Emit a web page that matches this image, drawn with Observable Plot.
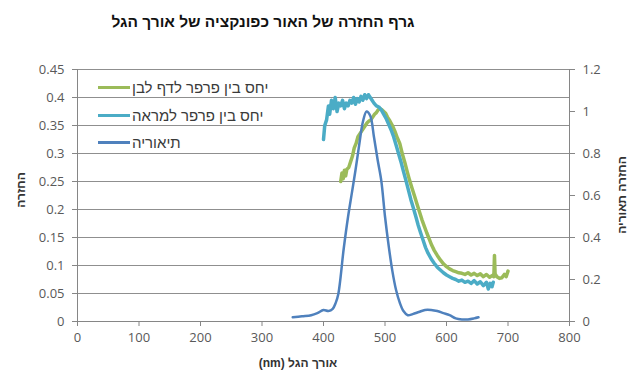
<!DOCTYPE html>
<html><head><meta charset="utf-8">
<script src="https://cdn.jsdelivr.net/npm/d3@7"></script>
<script src="https://cdn.jsdelivr.net/npm/@observablehq/plot@0.6"></script>
<style>
body{margin:0;background:#fff;}
#wrap{position:relative;width:642px;height:379px;font-family:"Liberation Sans","DejaVu Sans",sans-serif;}
#title{position:absolute;left:0;top:13px;width:526px;text-align:center;font-weight:bold;font-size:15.5px;color:#111;direction:rtl;}
.ytitle{position:absolute;font-weight:bold;font-size:12px;color:#333;white-space:nowrap;direction:rtl;transform-origin:center center;}
#xtitle{position:absolute;left:0;width:596px;top:356px;text-align:center;font-weight:bold;font-size:12px;color:#333;direction:rtl;}
#legend{position:absolute;left:98px;top:74px;font-size:15px;color:#3a3a3a;}
.row{height:27.5px;display:flex;align-items:center;}
.sw{width:32px;height:3px;margin-right:2px;}
.lt{direction:rtl;}
</style></head>
<body>
<div id="wrap">
<div id="title">גרף החזרה של האור כפונקציה של אורך הגל</div>
<div id="chart"></div>
<div id="legend"></div>
<div class="ytitle" id="yl">החזרה</div>
<div class="ytitle" id="yr">החזרה תאוריה</div>
<div id="xtitle">אורך הגל (nm)</div>
</div>
<script>
// Tick labels
const xTicks = [0,100,200,300,400,500,600,700,800];
const leftTicks = [0,0.05,0.1,0.15,0.2,0.25,0.3,0.35,0.4,0.45];
const rightTicks = [0,0.2,0.4,0.6,0.8,1,1.2];

// Series names
const seriesNames = ["יחס בין פרפר לדף לבן","יחס בין פרפר למראה","תיאוריה"];
const seriesColors = ["#9BBB59","#4BACC6","#4F81BD"];

// Paper ratio (left axis)
const wlPaper = [428,430,432,434,436,438,441,444,447,450,453,456,459,462,465,468,471,474,477,480,483,486,489,492,495,498,501,504,508,512,516,520,524,528,532,536,540,544,548,552,556,560,564,568,572,576,580,585,590,595,600,605,610,615,620,625,630,635,640,645,650,655,660,665,670,674,677,678,679,682,686,690,694,697,700];
const rPaper = [0.25,0.265,0.255,0.27,0.26,0.272,0.275,0.285,0.295,0.31,0.318,0.33,0.335,0.34,0.345,0.35,0.355,0.358,0.36,0.365,0.37,0.373,0.378,0.38,0.378,0.375,0.372,0.365,0.358,0.35,0.34,0.328,0.318,0.3,0.285,0.268,0.252,0.238,0.224,0.21,0.196,0.182,0.17,0.158,0.147,0.136,0.127,0.118,0.11,0.103,0.098,0.094,0.091,0.089,0.087,0.086,0.084,0.087,0.083,0.086,0.082,0.085,0.08,0.084,0.079,0.082,0.08,0.118,0.085,0.08,0.077,0.078,0.084,0.08,0.09];

// Mirror ratio (left axis)
const wlMirror = [400,402,405,408,410,413,416,419,422,425,428,431,434,437,440,443,446,449,452,455,458,461,464,467,470,473,476,479,482,486,490,494,498,502,506,510,514,518,522,526,530,534,538,542,546,550,554,558,562,566,570,575,580,585,590,595,600,605,610,615,620,625,630,635,640,645,650,655,660,665,668,671,674,676];
const rMirror = [0.325,0.35,0.36,0.385,0.37,0.395,0.38,0.40,0.375,0.39,0.385,0.395,0.38,0.39,0.385,0.395,0.39,0.40,0.388,0.398,0.392,0.402,0.395,0.405,0.398,0.405,0.40,0.395,0.39,0.385,0.383,0.378,0.37,0.362,0.352,0.342,0.33,0.315,0.30,0.285,0.268,0.252,0.235,0.218,0.203,0.188,0.172,0.158,0.145,0.132,0.122,0.112,0.104,0.097,0.092,0.087,0.083,0.08,0.077,0.075,0.072,0.074,0.07,0.072,0.068,0.073,0.067,0.071,0.064,0.07,0.058,0.068,0.062,0.07];

// Theory (right axis)
const wlTheory = [350,365,380,390,400,408,415,420,424,433,440,446,452,458,464,470,476,482,488,494,500,506,512,518,524,530,537,545,555,565,575,585,595,605,615,625,635,645,652];
const rTheory = [0.02,0.025,0.03,0.04,0.055,0.05,0.06,0.09,0.13,0.35,0.5,0.61,0.72,0.84,0.95,1.0,0.98,0.88,0.77,0.67,0.5,0.36,0.24,0.15,0.09,0.05,0.03,0.035,0.045,0.055,0.055,0.05,0.04,0.03,0.015,0.01,0.01,0.015,0.02];

const K = 0.45/1.2; // right axis -> left axis
const fmt = d => String(+d.toFixed(2));
const axisCol = "#868686", labCol = "#595959", gridCol = "#8f8f8f";

const chart = Plot.plot({
  width:642, height:379,
  marginTop:69, marginBottom:58, marginLeft:77, marginRight:73,
  x:{domain:[0,800]},
  y:{domain:[0,0.45]},
  style:{fontFamily:"'Open Sans','Liberation Sans',sans-serif", fontSize:"13px", background:"transparent", overflow:"visible"},
  marks:[
    Plot.gridY(leftTicks,{stroke:gridCol, strokeOpacity:1}),
    Plot.ruleX([0],{stroke:axisCol}),
    Plot.ruleX([800],{stroke:axisCol}),
    Plot.ruleY([0],{stroke:axisCol}),
    Plot.axisY({anchor:"left", ticks:leftTicks, tickFormat:fmt, tickSize:5, tickPadding:8, stroke:axisCol, fill:labCol, label:null}),
    Plot.axisY({anchor:"right", ticks:rightTicks.map(v=>v*K), tickFormat:d=>fmt(d/K), tickSize:5, tickPadding:8, stroke:axisCol, fill:labCol, textAnchor:"start", label:null}),
    Plot.axisX({ticks:xTicks, tickSize:5, tickPadding:6, stroke:axisCol, fill:labCol, label:null}),
    Plot.line(rPaper,{x:wlPaper, y:rPaper, stroke:seriesColors[0], strokeWidth:3.5, strokeLinejoin:"round"}),
    Plot.line(rMirror,{x:wlMirror, y:rMirror, stroke:seriesColors[1], strokeWidth:3.5, strokeLinejoin:"round"}),
    Plot.line(rTheory,{x:wlTheory, y:rTheory.map(v=>v*K), stroke:seriesColors[2], strokeWidth:2.5, curve:"catmull-rom"})
  ]
});
document.getElementById("chart").appendChild(chart);

const leg = document.getElementById("legend");
seriesNames.forEach((n,i)=>{
  const r = document.createElement("div"); r.className="row";
  const s = document.createElement("div"); s.className="sw"; s.style.background=seriesColors[i];
  const t = document.createElement("span"); t.className="lt"; t.textContent=n;
  r.appendChild(s); r.appendChild(t); leg.appendChild(r);
});

// place rotated axis titles
function placeRot(el, cx, cy){
  const w = el.offsetWidth, h = el.offsetHeight;
  el.style.left = (cx - w/2)+"px"; el.style.top = (cy - h/2)+"px";
  el.style.transform = "rotate(-90deg)";
}
placeRot(document.getElementById("yl"), 21, 190);
placeRot(document.getElementById("yr"), 622, 195);
</script>
</body></html>
